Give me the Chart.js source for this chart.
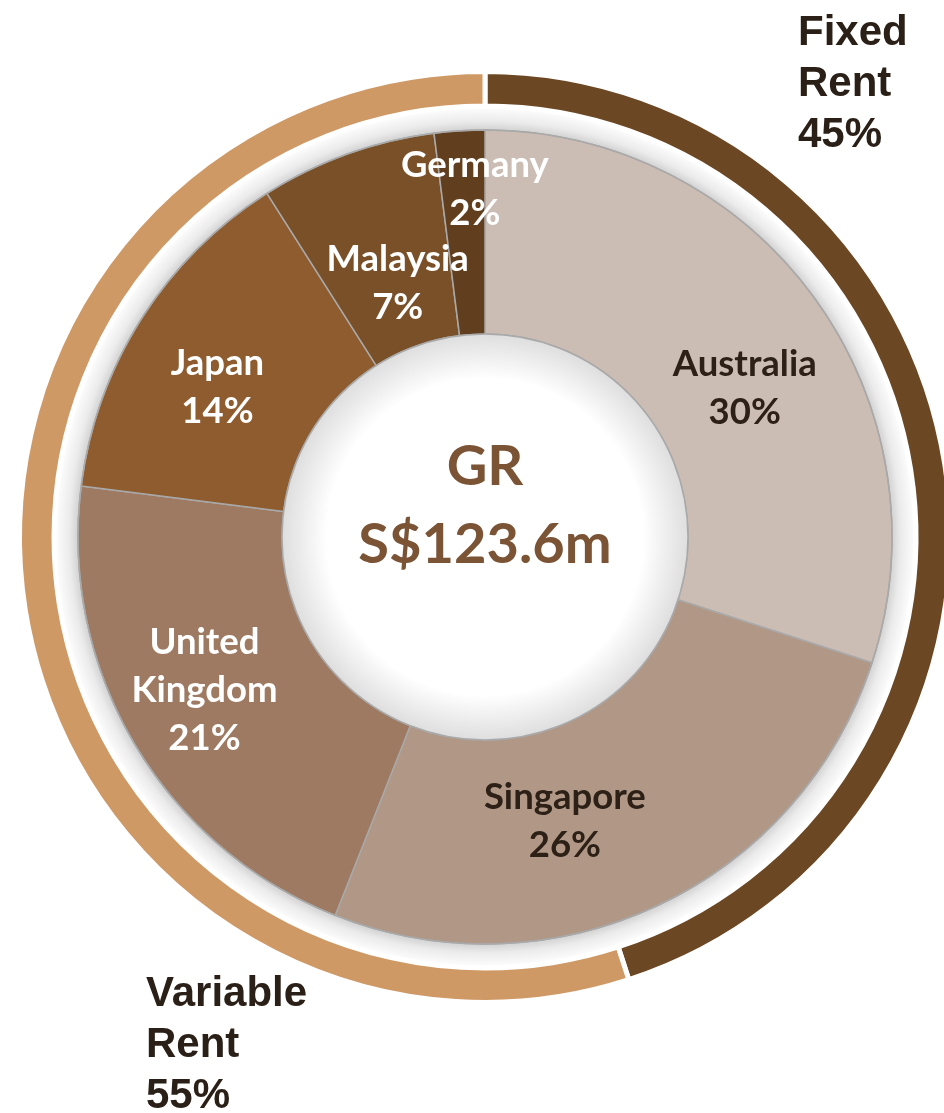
<!DOCTYPE html>
<html>
<head>
<meta charset="utf-8">
<script src="https://cdn.jsdelivr.net/npm/chart.js@4.4.1/dist/chart.umd.min.js"></script>
<style>
  html, body { margin: 0; padding: 0; background: #fff; overflow: hidden; }
  #wrap { position: relative; width: 944px; height: 1113px; overflow: hidden; }
  .side { position: absolute; font-family: "Liberation Sans", Arial, sans-serif; font-weight: bold;
          font-size: 42px; line-height: 51px; color: #2a2017; }
</style>
</head>
<body>
<div id="wrap">
  <canvas id="grChart" width="960" height="1113"></canvas>
  <div class="side" style="left:798px; top:5px;">Fixed<br>Rent<br>45%</div>
  <div class="side" style="left:146px; top:966px;">Variable<br>Rent<br>55%</div>
</div>
<script>
// Data
const countries = ["Australia", "Singapore", "United Kingdom", "Japan", "Malaysia", "Germany"];
const countryShare = [30, 26, 21, 14, 7, 2];
const rentTypes = ["Fixed Rent", "Variable Rent"];
const rentShare = [45, 55];

const countryColors = ["#cbbdb4", "#b09786", "#9e7a62", "#8e5c2e", "#7a5029", "#613f1e"];
const labelColors = ["#2d2016", "#2d2016", "#fff", "#fff", "#fff", "#fff"];
// small nudges from the slice centre, like excel's manual label placement
const labelNudge = [[13, 31], [-50, 8], [-18, -2], [-10, 14], [16, 33], [9, -43]];

// shadow band, hole and labels
const decorPlugin = {
  id: "decor",
  beforeDatasetsDraw(chart) {
    const arc = chart.getDatasetMeta(2).data[0];
    if (!arc) return;
    const ctx = chart.ctx;
    const r0 = arc.outerRadius - 2;
    const r1 = arc.outerRadius + 22;
    const g = ctx.createRadialGradient(arc.x, arc.y, r0, arc.x, arc.y, r1);
    g.addColorStop(0, "rgba(0,0,0,0.2)");
    g.addColorStop(0.45, "rgba(0,0,0,0.08)");
    g.addColorStop(1, "rgba(0,0,0,0.01)");
    ctx.save();
    ctx.beginPath();
    ctx.arc(arc.x, arc.y, r1, 0, Math.PI * 2);
    ctx.arc(arc.x, arc.y, r0, 0, Math.PI * 2, true);
    ctx.fillStyle = g;
    ctx.fill();
    ctx.restore();
  },
  afterDatasetsDraw(chart) {
    const meta = chart.getDatasetMeta(2);
    const arc = meta.data[0];
    if (!arc) return;
    const ctx = chart.ctx;
    const cx = arc.x, cy = arc.y, rin = arc.innerRadius, rout = arc.outerRadius;
    ctx.save();
    // outline of the country ring
    ctx.strokeStyle = "#a9a9a9";
    ctx.lineWidth = 1.5;
    ctx.beginPath();
    ctx.arc(cx, cy, rout, 0, Math.PI * 2);
    ctx.stroke();
    // hole with soft inner shade
    const hg = ctx.createRadialGradient(cx, cy, rin * 0.78, cx, cy, rin);
    hg.addColorStop(0, "#ffffff");
    hg.addColorStop(1, "#dedede");
    ctx.beginPath();
    ctx.arc(cx, cy, rin, 0, Math.PI * 2);
    ctx.fillStyle = hg;
    ctx.fill();
    ctx.stroke();

    // centre text
    ctx.fillStyle = "#7b5435";
    ctx.font = "bold 56px Lato";
    ctx.textAlign = "center";
    ctx.textBaseline = "middle";
    ctx.fillText("GR", cx, cy - 70);
    ctx.fillText("S$123.6m", cx, cy + 8);

    // slice labels
    ctx.font = "bold 36.5px Lato";
    meta.data.forEach((el, i) => {
      const mid = (el.startAngle + el.endAngle) / 2;
      const r = (el.innerRadius + el.outerRadius) / 2;
      const x = el.x + Math.cos(mid) * r + labelNudge[i][0];
      const y = el.y + Math.sin(mid) * r + labelNudge[i][1];
      const lines = countries[i].split(" ").concat([countryShare[i] + "%"]);
      const lh = 48;
      ctx.fillStyle = labelColors[i];
      lines.forEach((t, k) => {
        ctx.fillText(t, x, y + (k - (lines.length - 1) / 2) * lh);
      });
    });
    ctx.restore();
  }
};

const ctx = document.getElementById("grChart").getContext("2d");
new Chart(ctx, {
  type: "doughnut",
  data: {
    labels: countries,
    datasets: [
      {
        label: "Rent",
        data: rentShare,
        backgroundColor: ["#6b4724", "#cf9966"],
        borderColor: "#fff",
        borderWidth: 5,
        weight: 34.5,
      },
      {
        label: "spacer",
        data: [100],
        backgroundColor: "rgba(0,0,0,0)",
        borderWidth: 0,
        weight: 24,
      },
      {
        label: "GR",
        data: countryShare,
        backgroundColor: countryColors,
        borderColor: "#a9a9a9",
        borderWidth: 1.5,
        weight: 204,
      },
    ],
  },
  options: {
    responsive: false,
    animation: false,
    events: [],
    cutout: 203,
    layout: {
      padding: { left: 17, right: 7, top: 69, bottom: 108 },
    },
    plugins: {
      legend: { display: false },
      tooltip: { enabled: false },
    },
  },
  plugins: [decorPlugin],
});
</script>
</body>
</html>
